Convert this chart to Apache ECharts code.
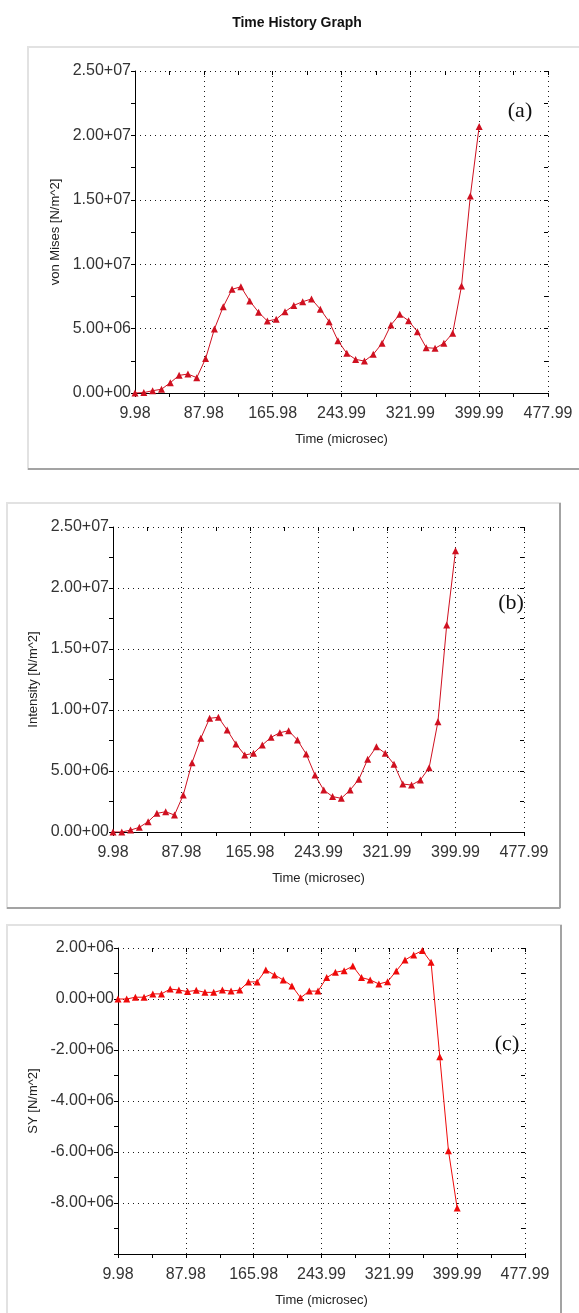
<!DOCTYPE html>
<html>
<head>
<meta charset="utf-8">
<title>Time History Graph</title>
<script src="https://cdn.jsdelivr.net/npm/echarts@6.0.0/dist/echarts.min.js"></script>
<style>
  html, body { margin: 0; padding: 0; background: #fff; }
  #timeHistory { width: 579px; height: 1313px; }
</style>
</head>
<body>
<div id="timeHistory"></div>
<script>
// sample times (microsec)
var times = [
  9.98, 19.98, 29.98, 39.98, 49.98, 59.98, 69.98, 79.98, 89.98, 99.98,
  109.98, 119.98, 129.98, 139.98, 149.98, 159.98, 169.98, 179.98, 189.98, 199.98,
  209.98, 219.98, 229.98, 239.98, 249.98, 259.98, 269.98, 279.98, 289.98, 299.98,
  309.98, 319.98, 329.98, 339.98, 349.98, 359.98, 369.98, 379.98, 389.98, 399.99
];

// (a) von Mises [N/m^2]
var vonMises = [
  0, 0.03e6, 0.18e6, 0.29e6, 0.8e6, 1.37e6, 1.47e6, 1.19e6, 2.67e6, 4.97e6,
  6.7e6, 8.05e6, 8.25e6, 7.15e6, 6.27e6, 5.59e6, 5.72e6, 6.31e6, 6.8e6, 7.09e6,
  7.3e6, 6.5e6, 5.54e6, 4.06e6, 3.08e6, 2.61e6, 2.48e6, 3.0e6, 3.86e6, 5.28e6,
  6.11e6, 5.61e6, 4.76e6, 3.52e6, 3.47e6, 3.86e6, 4.64e6, 8.3e6, 15.3e6, 20.7e6
];

// (b) Intensity [N/m^2]
var intensity = [
  0, 0, 0.16e6, 0.38e6, 0.85e6, 1.53e6, 1.66e6, 1.39e6, 3.03e6, 5.68e6,
  7.68e6, 9.32e6, 9.4e6, 8.36e6, 7.21e6, 6.31e6, 6.45e6, 7.13e6, 7.76e6, 8.14e6,
  8.3e6, 7.54e6, 6.39e6, 4.67e6, 3.44e6, 2.9e6, 2.76e6, 3.44e6, 4.32e6, 5.96e6,
  6.99e6, 6.45e6, 5.55e6, 3.93e6, 3.85e6, 4.26e6, 5.27e6, 9.04e6, 16.97e6, 23.06e6
];

// (c) SY [N/m^2]
var sy = [
  0, 0, 0.07e6, 0.07e6, 0.2e6, 0.2e6, 0.39e6, 0.35e6, 0.29e6, 0.34e6,
  0.26e6, 0.26e6, 0.35e6, 0.31e6, 0.35e6, 0.67e6, 0.67e6, 1.14e6, 0.94e6, 0.75e6,
  0.51e6, 0.05e6, 0.31e6, 0.31e6, 0.84e6, 1.05e6, 1.11e6, 1.29e6, 0.84e6, 0.75e6,
  0.59e6, 0.68e6, 1.1e6, 1.53e6, 1.73e6, 1.9e6, 1.44e6, -2.26e6, -5.95e6, -8.2e6
];

var xTickLabels = ["9.98", "87.98", "165.98", "243.99", "321.99", "399.99", "477.99"];
var yTicksAB = [0, 25000000, 5000000];     // min, max, interval
var yTicksC = [-10000000, 2000000, 2000000];

var FONT = "'Liberation Sans', Arial, sans-serif";
var xMin = +xTickLabels[0];
var xMax = +xTickLabels[xTickLabels.length - 1];
var xStep = (xMax - xMin) / (xTickLabels.length - 1);

// 2.50+07 style numbers
function sciLabel(v) {
  if (v === 0) return "0.00+00";
  var e = Math.floor(Math.log10(Math.abs(v)) + 1e-9);
  var m = v / Math.pow(10, e);
  return m.toFixed(2) + (e < 0 ? "-" : "+") + String(Math.abs(e)).padStart(2, "0");
}

function xLabel(v) {
  var hit = xTickLabels.filter(function (l) { return Math.abs(+l - v) < 1; });
  return hit.length ? hit[0] : "";
}

var dotted = { color: "#1a1a1a", width: 1, type: [1, 4] };

// each panel has a main axis pair and a second pair only for the inward half of the ticks
function makeAxes(gi, yr, hideMin) {
  var xs = [
    {
      type: "value", gridIndex: gi, min: xMin, max: xMax, interval: xStep,
      name: "Time (microsec)", nameLocation: "middle", nameGap: 40,
      nameTextStyle: { color: "#222", fontSize: 13, fontFamily: FONT },
      axisLine: { onZero: false, lineStyle: { color: "#000", width: 1 } },
      axisTick: { show: true, length: 4, lineStyle: { color: "#000" } },
      minorTick: { show: true, splitNumber: 2, length: 4, lineStyle: { color: "#000" } },
      axisLabel: { color: "#333", fontSize: 16, fontFamily: FONT, margin: 13, formatter: xLabel, hideOverlap: false },
      splitLine: { show: true, lineStyle: dotted },
      minorSplitLine: { show: false }
    },
    {
      type: "value", gridIndex: gi, min: xMin, max: xMax, interval: xStep,
      axisLine: { show: false, onZero: false },
      axisTick: { show: true, inside: true, length: 4, lineStyle: { color: "#000" } },
      minorTick: { show: true, splitNumber: 2, length: 4, lineStyle: { color: "#000" } },
      axisLabel: { show: false },
      splitLine: { show: false }
    }
  ];
  var ys = [
    {
      type: "value", gridIndex: gi, min: yr[0], max: yr[1], interval: yr[2],
      nameLocation: "middle", nameGap: 64, nameRotate: 90,
      nameTextStyle: { color: "#222", fontSize: 13, fontFamily: FONT },
      axisLine: { show: true, onZero: false, lineStyle: { color: "#000", width: 1 } },
      axisTick: { show: true, length: 4, lineStyle: { color: "#000" } },
      minorTick: { show: true, splitNumber: 2, length: 4, lineStyle: { color: "#000" } },
      axisLabel: {
        color: "#333", fontSize: 16, fontFamily: FONT, margin: 4, hideOverlap: false,
        formatter: function (v) { return (hideMin && v === yr[0]) ? "" : sciLabel(v); }
      },
      splitLine: { show: true, lineStyle: dotted }
    },
    {
      type: "value", gridIndex: gi, min: yr[0], max: yr[1], interval: yr[2],
      axisLine: { show: false, onZero: false },
      axisTick: { show: true, inside: true, length: 4, lineStyle: { color: "#000" } },
      minorTick: { show: true, splitNumber: 2, length: 4, lineStyle: { color: "#000" } },
      axisLabel: { show: false },
      splitLine: { show: false }
    }
  ];
  return { xs: xs, ys: ys };
}

var A = makeAxes(0, yTicksAB, false);
var B = makeAxes(1, yTicksAB, false);
var C = makeAxes(2, yTicksC, true);
A.ys[0].name = "von Mises [N/m^2]";
B.ys[0].name = "Intensity [N/m^2]";
C.ys[0].name = "SY [N/m^2]";

function pairs(vals) {
  return times.map(function (t, i) { return [t, vals[i]]; });
}

function lineSeries(idx, vals, color) {
  return {
    type: "line", xAxisIndex: idx, yAxisIndex: idx,
    data: pairs(vals),
    symbol: "triangle", symbolSize: 7, showSymbol: true,
    lineStyle: { color: color, width: 1 },
    itemStyle: { color: color },
    silent: true
  };
}

function frame(x, y, w, h) {
  return [
    { type: "rect", shape: { x: x, y: y, width: w, height: h }, style: { fill: null, stroke: "#e2e2e2", lineWidth: 2 } },
    { type: "line", shape: { x1: x, y1: y + h, x2: x + w, y2: y + h }, style: { stroke: "#a3a3a3", lineWidth: 2 } },
    { type: "line", shape: { x1: x + w, y1: y, x2: x + w, y2: y + h }, style: { stroke: "#a3a3a3", lineWidth: 2 } }
  ];
}

function tag(text, x, y) {
  return {
    type: "text", x: x, y: y,
    style: { text: text, fill: "#111", font: "22px 'Liberation Serif', 'Times New Roman', serif", textAlign: "center", textVerticalAlign: "middle" }
  };
}

var chart = echarts.init(document.getElementById("timeHistory"));
chart.setOption({
  animation: false,
  backgroundColor: "#fff",
  title: {
    text: "Time History Graph", left: 292, top: 11, textAlign: "center",
    textStyle: { color: "#111", fontSize: 14, fontWeight: "bold", fontFamily: FONT }
  },
  grid: [
    { left: 135, top: 71, width: 413, height: 322, outerBoundsMode: "none" },
    { left: 113, top: 527, width: 411, height: 305, outerBoundsMode: "none" },
    { left: 118, top: 948, width: 407, height: 306, outerBoundsMode: "none" }
  ],
  xAxis: A.xs.concat(B.xs, C.xs),
  yAxis: A.ys.concat(B.ys, C.ys),
  series: [
    lineSeries(0, vonMises, "#cf1020"),
    lineSeries(2, intensity, "#cf1020"),
    lineSeries(4, sy, "#ee0a0a")
  ],
  graphic: frame(28, 47, 570, 422)
    .concat(frame(7, 503, 553, 405))
    .concat(frame(7, 925, 554, 420))
    .concat([tag("(a)", 520, 111), tag("(b)", 511, 603), tag("(c)", 507, 1044)])
});
</script>
</body>
</html>
